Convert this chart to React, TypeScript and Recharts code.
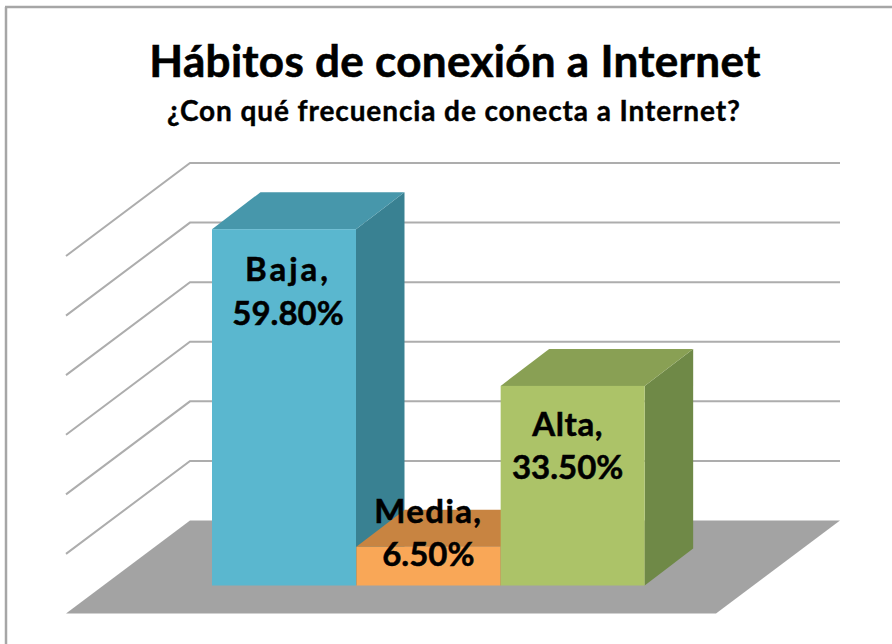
import React from "react";
import { BarChart, Bar, XAxis, YAxis, CartesianGrid, LabelList } from "recharts";

const categories = ["Baja", "Media", "Alta"];
const percentages = [59.8, 6.5, 33.5];
const valueTicks = [0, 10, 20, 30, 40, 50, 60];
const titleText = "Hábitos de conexión a Internet";
const subtitleText = "¿Con qué frecuencia de conecta a Internet?";

const frontColors = ["#5ab7cf", "#f9a757", "#acc368"];
const topColors = ["#4797ab", "#c88441", "#89a054"];
const sideColors = ["#398192", "#c88441", "#6f8947"];

const rows = categories.map((name, i) => ({ name, value: percentages[i] }));

const W = 892;
const H = 644;
const PLOT_LEFT = 212;
const PLOT_RIGHT = 645;
const PLOT_TOP = 228;
const PLOT_BOTTOM = 585.5;

const BAR_DX = 48.5;
const BAR_DY = 37;
const WALL_LEFT = 190;
const WALL_RIGHT = 840;
const FLOOR_LEFT = 66;
const WALL_BACK = 65;
const WALL_FRONT = 28;

const FONT = "Lato, Carlito, sans-serif";
const LABEL_SIZE = 33;
const LABEL_LINE = 43.5;
const labelDx = [4, 0, -5];
const labelAnchor = [39, -37, 37];
const labelSpacing = [3, 1.4, 0.6];

const GridLine = (p: any) => {
  const y = p.y1;
  const backY = y - WALL_BACK;
  const frontY = y + WALL_FRONT;
  const isFloor = Math.abs(y - PLOT_BOTTOM) < 1;
  if (isFloor) {
    const dxFront = WALL_RIGHT - WALL_LEFT;
    return (
      <polygon
        key={`floor-${p.index}`}
        points={`${WALL_LEFT},${backY} ${WALL_RIGHT},${backY} ${FLOOR_LEFT + dxFront},${frontY} ${FLOOR_LEFT},${frontY}`}
        fill="#a3a3a3"
        stroke="none"
      />
    );
  }
  return (
    <polyline
      key={`wall-${p.index}`}
      points={`${FLOOR_LEFT},${frontY} ${WALL_LEFT},${backY} ${WALL_RIGHT},${backY}`}
      fill="none"
      stroke="#adadad"
      strokeWidth={2}
    />
  );
};

const Box = (p: any) => {
  const { x, y, width, height, index } = p;
  const r = x + width;
  const b = y + height;
  return (
    <g>
      <polygon
        points={`${r},${y} ${r + BAR_DX},${y - BAR_DY} ${r + BAR_DX},${b - BAR_DY} ${r},${b}`}
        fill={sideColors[index]}
      />
      <polygon
        points={`${x},${y} ${x + BAR_DX},${y - BAR_DY} ${r + BAR_DX},${y - BAR_DY} ${r},${y}`}
        fill={topColors[index]}
      />
      <rect x={x} y={y} width={width} height={height} fill={frontColors[index]} />
    </g>
  );
};

const BoxLabel = (p: any) => {
  const { index, value } = p;
  const vb = p.viewBox ?? p;
  const cx = vb.x + vb.width / 2 + labelDx[index];
  const first = vb.y + labelAnchor[index];
  return (
    <g fontFamily={FONT} fontWeight={700} fontSize={LABEL_SIZE} fill="#000" stroke="#000" strokeWidth={0.5} textAnchor="middle">
      <text x={cx} y={first} dominantBaseline="central" letterSpacing={labelSpacing[index]}>{`${categories[index]},`}</text>
      <text x={cx} y={first + LABEL_LINE} dominantBaseline="central">{`${Number(value).toFixed(2)}%`}</text>
    </g>
  );
};

export default function App() {
  return (
    <div style={{ position: "absolute", left: 0, top: 0, width: W, height: H, background: "#fff", overflow: "hidden" }}>
      <BarChart
        width={W}
        height={H}
        data={rows}
        barCategoryGap={0}
        margin={{ left: PLOT_LEFT, right: W - PLOT_RIGHT, top: PLOT_TOP, bottom: H - PLOT_BOTTOM }}
      >
        <line x1={6} y1={644} x2={6} y2={7} stroke="#a6a6a6" strokeWidth={2.5} />
        <line x1={5} y1={7} x2={892} y2={7} stroke="#a6a6a6" strokeWidth={2.5} />
        <text x={455} y={60} textAnchor="middle" dominantBaseline="central" fontFamily={FONT} fontWeight={700} fontSize={44} letterSpacing={0.3} fill="#000" stroke="#000" strokeWidth={0.6}>
          {titleText}
        </text>
        <text x={454} y={110} textAnchor="middle" dominantBaseline="central" fontFamily={FONT} fontWeight={700} fontSize={28} letterSpacing={0.9} fill="#000" stroke="#000" strokeWidth={0.4}>
          {subtitleText}
        </text>
        <XAxis dataKey="name" hide />
        <YAxis hide domain={[0, 60]} ticks={valueTicks} width={0} />
        <CartesianGrid vertical={false} horizontal={GridLine} />
        <Bar dataKey="value" shape={Box} isAnimationActive={false}>
          <LabelList dataKey="value" content={BoxLabel} />
        </Bar>
      </BarChart>
    </div>
  );
}
